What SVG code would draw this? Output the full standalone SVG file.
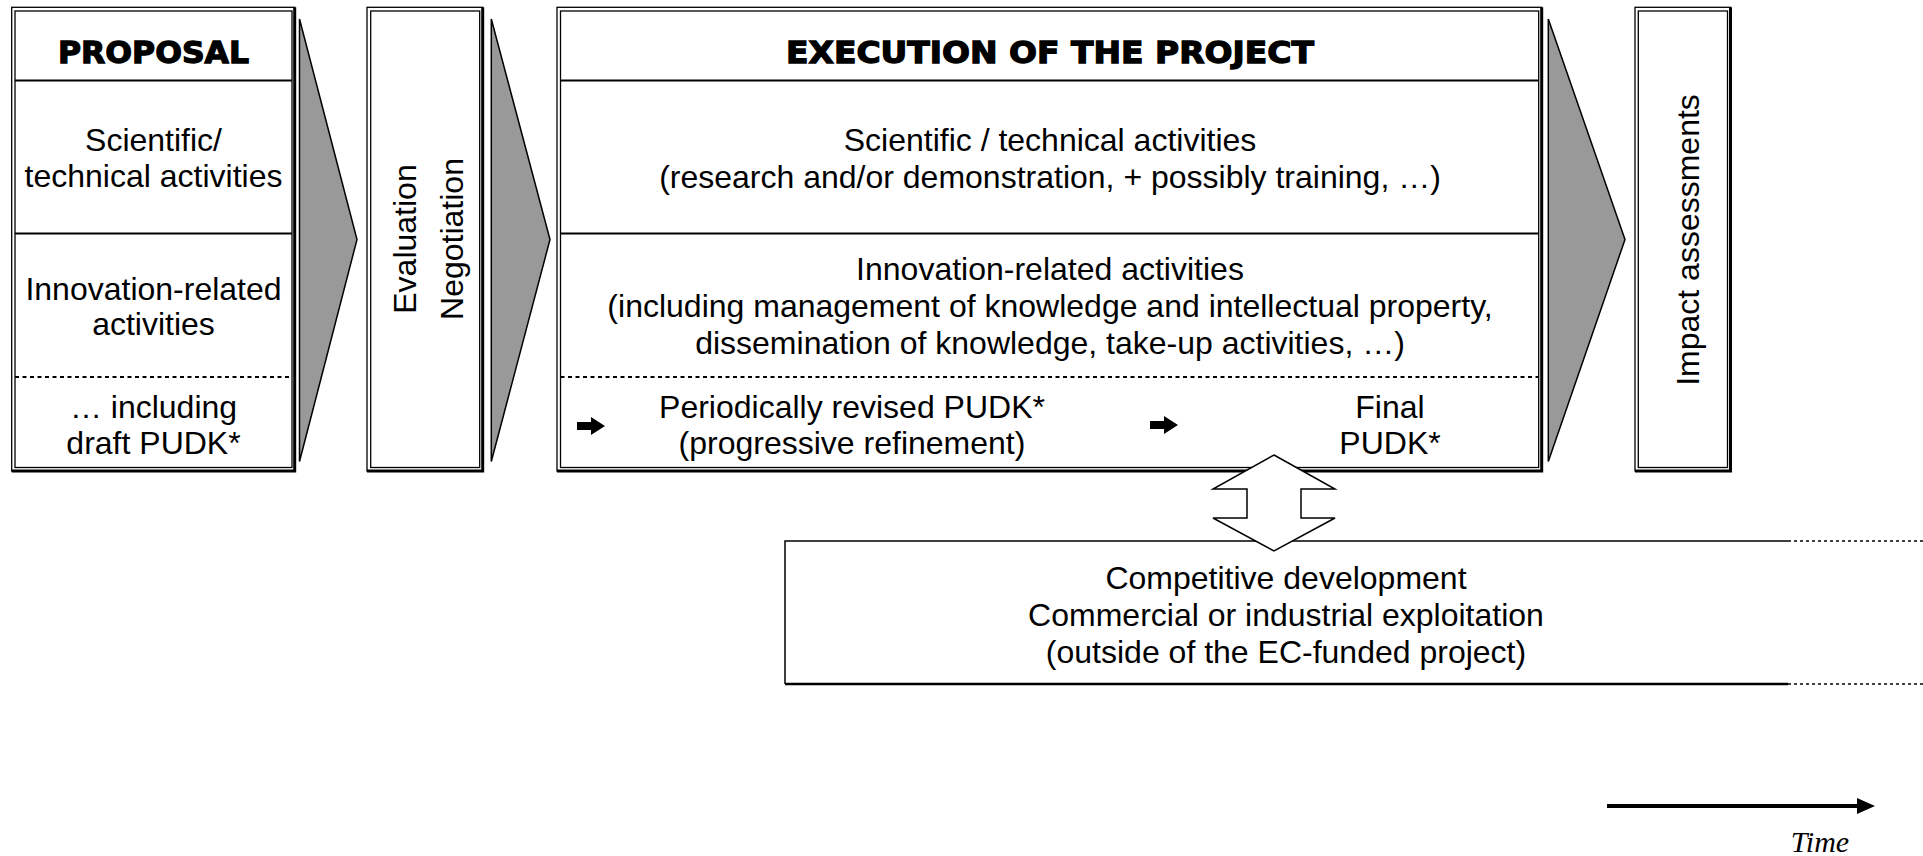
<svg xmlns="http://www.w3.org/2000/svg" width="1923" height="856" viewBox="0 0 1923 856">
<style>
.txt{font-family:"Liberation Sans",Arial,sans-serif;font-size:32px;fill:#000;text-anchor:middle}
.ttl{font-family:"DejaVu Sans",sans-serif;font-weight:bold;font-size:31px;fill:#000;stroke:#000;stroke-width:1.3;text-anchor:middle}
.time{font-family:"Liberation Serif","Times New Roman",serif;font-style:italic;font-size:30px;fill:#000;text-anchor:middle}
.thin{fill:none;stroke:#000;stroke-width:1.3}
.thick{fill:none;stroke:#000;stroke-width:3}
.sep{stroke:#000;stroke-width:2}
.dot{stroke:#000;stroke-width:2.2;stroke-dasharray:4 3.5}
.fdot{stroke:#000;stroke-width:1.5;stroke-dasharray:3 3}
.chev{fill:#999;stroke:#000;stroke-width:1.5}
.blk{fill:#000;stroke:none}
</style>
<rect width="1923" height="856" fill="#fff"/>

<g id="proposal">
<rect class="thin" x="11.7" y="7.3" width="283" height="463.7"/>
<path class="thick" d="M294.7,7.3 V471 H11.7"/>
<rect class="thin" x="15" y="11" width="277" height="456.5"/>
<line class="sep" x1="15" y1="80.5" x2="292" y2="80.5"/>
<line class="sep" x1="15" y1="233.5" x2="292" y2="233.5"/>
<line class="dot" x1="15" y1="377" x2="292" y2="377"/>
<text class="ttl" x="153.5" y="63" textLength="191" lengthAdjust="spacingAndGlyphs">PROPOSAL</text>
<text class="txt" x="153.5" y="151">Scientific/</text>
<text class="txt" x="153.5" y="187">technical activities</text>
<text class="txt" x="153.5" y="300">Innovation-related</text>
<text class="txt" x="153.5" y="335">activities</text>
<text class="txt" x="153.5" y="418">… including</text>
<text class="txt" x="153.5" y="454">draft PUDK*</text>
</g>

<g id="evaluation">
<rect class="thin" x="367" y="7.3" width="115.7" height="463.7"/>
<path class="thick" d="M482.7,7.3 V471 H367"/>
<rect class="thin" x="370.7" y="11" width="109" height="456.5"/>
<text class="txt" transform="translate(416,239) rotate(-90)">Evaluation</text>
<text class="txt" transform="translate(463,239) rotate(-90)">Negotiation</text>
</g>

<g id="execution">
<rect class="thin" x="557" y="7.3" width="984.7" height="463.7"/>
<path class="thick" d="M1541.7,7.3 V471 H557"/>
<rect class="thin" x="560.5" y="11" width="978.2" height="456.5"/>
<line class="sep" x1="560.5" y1="80.5" x2="1538.7" y2="80.5"/>
<line class="sep" x1="560.5" y1="233.5" x2="1538.7" y2="233.5"/>
<line class="dot" x1="560.5" y1="377" x2="1538.7" y2="377"/>
<text class="ttl" x="1050" y="63" textLength="528" lengthAdjust="spacingAndGlyphs">EXECUTION OF THE PROJECT</text>
<text class="txt" x="1050" y="151">Scientific / technical activities</text>
<text class="txt" x="1050" y="188">(research and/or demonstration, + possibly training, …)</text>
<text class="txt" x="1050" y="279.5">Innovation-related activities</text>
<text class="txt" x="1050" y="316.5">(including management of knowledge and intellectual property,</text>
<text class="txt" x="1050" y="353.5">dissemination of knowledge, take-up activities, …)</text>
<text class="txt" x="852" y="418">Periodically revised PUDK*</text>
<text class="txt" x="852" y="454">(progressive refinement)</text>
<text class="txt" x="1390" y="418">Final</text>
<text class="txt" x="1390" y="454">PUDK*</text>
</g>

<g id="impact">
<rect class="thin" x="1635" y="7.3" width="95.5" height="463.7"/>
<path class="thick" d="M1730.5,7.3 V471 H1635"/>
<rect class="thin" x="1638.3" y="11" width="89.2" height="456.5"/>
<text class="txt" transform="translate(1699,240) rotate(-90)">Impact assessments</text>
</g>

<g id="exploitation">
<path fill="none" stroke="#000" stroke-width="1.5" d="M1788,541 H785 V684"/>
<line stroke="#000" stroke-width="2.5" x1="785" y1="684" x2="1788" y2="684"/>
<line class="fdot" x1="1788" y1="541" x2="1923" y2="541"/>
<line class="fdot" x1="1788" y1="684" x2="1923" y2="684"/>
<text class="txt" x="1286" y="588.5">Competitive development</text>
<text class="txt" x="1286" y="625.5">Commercial or industrial exploitation</text>
<text class="txt" x="1286" y="662.5">(outside of the EC-funded project)</text>
</g>

<g id="time">
<text class="time" x="1820" y="852">Time</text>
</g>

<g id="connectors">
<polygon class="chev" points="299.5,19 357,239.5 299.5,461.5"/>
<polygon class="chev" points="491.3,19 550,239.5 491.3,461.5"/>
<polygon class="chev" points="1548.3,19 1625,239.5 1548.3,461.5"/>
<polygon fill="#fff" stroke="#000" stroke-width="1.5" points="1274,455 1335,489 1301,489 1301,518 1335,518 1274,551 1213,518 1247,518 1247,489 1213,489"/>
<polygon class="blk" points="577,422 591,422 591,417 605,426 591,435 591,430 577,430"/>
<polygon class="blk" points="1150,421 1164,421 1164,416 1178,425 1164,434 1164,429 1150,429"/>
<line stroke="#000" stroke-width="4" x1="1607" y1="806" x2="1860" y2="806"/>
<polygon class="blk" points="1857,798 1875,806 1857,814"/>
</g>
</svg>
